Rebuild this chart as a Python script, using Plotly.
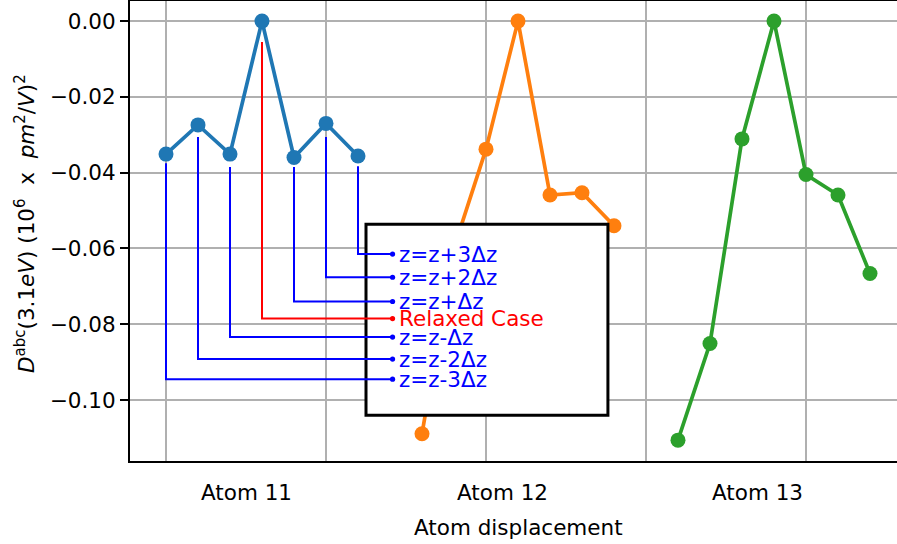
import plotly.graph_objects as go

# ---------------- data ----------------
x11 = [0, 1, 2, 3, 4, 5, 6]
atom11 = [-0.0351, -0.0274, -0.0351, 0.0, -0.0360, -0.0270, -0.0356]
x12 = [8, 9, 10, 11, 12, 13, 14]
atom12 = [-0.1089, -0.0599, -0.0338, 0.0, -0.0459, -0.0453, -0.0540]
x13 = [16, 17, 18, 19, 20, 21, 22]
atom13 = [-0.1106, -0.0851, -0.0311, 0.0, -0.0405, -0.0459, -0.0666]

atom_labels = ["Atom 11", "Atom 12", "Atom 13"]
atom_label_x = [2.5, 10.5, 18.5]
grid_x = [0, 5, 10, 15, 20]
y_ticks = [0.0, -0.02, -0.04, -0.06, -0.08, -0.10]

case_labels = ["z=z-3Δz", "z=z-2Δz", "z=z-Δz", "Relaxed Case", "z=z+Δz", "z=z+2Δz", "z=z+3Δz"]
case_colors = ["#0000ff", "#0000ff", "#0000ff", "#ff0000", "#0000ff", "#0000ff", "#0000ff"]
case_level = [-0.0945, -0.0892, -0.0834, -0.0785, -0.0740, -0.0676, -0.0615]
case_start = [-0.0375, -0.0306, -0.0385, -0.0055, -0.0385, -0.0306, -0.0383]
case_end_x = 7.08
box_x = [6.25, 13.81]
box_y = [-0.104, -0.0536]

FONT = "DejaVu Sans"
FS = 21.5

fig = go.Figure()
for xs, ys, col in [(x11, atom11, "#1f77b4"), (x12, atom12, "#ff7f0e"), (x13, atom13, "#2ca02c")]:
    fig.add_trace(go.Scatter(x=xs, y=ys, mode="lines+markers",
                             line=dict(color=col, width=3.7),
                             marker=dict(color=col, size=15),
                             showlegend=False))

shapes = []
# white box with black frame (covers data lines)
shapes.append(dict(type="rect", xref="x", yref="y", x0=box_x[0], x1=box_x[1],
                   y0=box_y[0], y1=box_y[1], fillcolor="white",
                   line=dict(color="black", width=3), layer="above"))
for xi, ys, yl, col in zip(x11, case_start, case_level, case_colors):
    shapes.append(dict(type="path", xref="x", yref="y",
                       path=f"M {xi} {ys} L {xi} {yl} L {case_end_x} {yl}",
                       line=dict(color=col, width=2), layer="above"))
    shapes.append(dict(type="circle", xref="x", yref="y", xsizemode="pixel", ysizemode="pixel",
                       xanchor=case_end_x, yanchor=yl, x0=-2.6, x1=2.6, y0=-2.6, y1=2.6,
                       fillcolor=col, line=dict(color=col, width=0), layer="above"))

annotations = []
for lab, yl, col in zip(case_labels, case_level, case_colors):
    annotations.append(dict(x=case_end_x, y=yl, xref="x", yref="y", text=lab,
                            showarrow=False, xanchor="left", yanchor="middle",
                            xshift=4, yshift=0,
                            font=dict(family=FONT, size=FS, color=col)))
for lab, xl in zip(atom_labels, atom_label_x):
    annotations.append(dict(x=xl, y=-0.0674, xref="x", yref="paper", text=lab,
                            showarrow=False, xanchor="center", yanchor="middle",
                            font=dict(family=FONT, size=FS, color="black")))
annotations.append(dict(x=11.0, y=-0.1435, xref="x", yref="paper", text="Atom displacement",
                        showarrow=False, xanchor="center", yanchor="middle",
                        font=dict(family=FONT, size=FS, color="black")))
annotations.append(dict(x=-0.137, y=0.517, xref="paper", yref="paper",
                        text="<i>D</i><sup>abc</sup>(3.1<i>eV</i>) (10<sup>6</sup>\u00a0\u00a0x\u00a0\u00a0<i>pm</i><sup>2</sup>/<i>V</i>)<sup>2</sup>",
                        textangle=-90, showarrow=False, xanchor="center", yanchor="middle",
                        font=dict(family=FONT, size=FS, color="black")))

fig.update_layout(
    width=897, height=544,
    margin=dict(l=130, r=0, t=1, b=83),
    paper_bgcolor="white", plot_bgcolor="white",
    font=dict(family=FONT, size=FS, color="black"),
    shapes=shapes, annotations=annotations,
    xaxis=dict(range=[-1.125, 22.844], tickmode="array", tickvals=grid_x,
               showticklabels=False, ticks="", showgrid=True, gridcolor="#b0b0b0",
               gridwidth=2, zeroline=False, showline=True, mirror=True,
               linecolor="black", linewidth=2),
    yaxis=dict(range=[-0.1161, 0.0053], tickmode="array", tickvals=y_ticks,
               tickformat=".2f", ticks="outside", ticklen=8, tickwidth=2,
               tickcolor="black", showgrid=True, gridcolor="#b0b0b0", gridwidth=2,
               zeroline=False, showline=True, mirror=False, linecolor="black",
               linewidth=2, tickfont=dict(family=FONT, size=FS, color="black")),
)

fig.write_html("out.html", config={"displayModeBar": False},
               post_script="document.body.style.margin='0';document.body.style.padding='0';")
